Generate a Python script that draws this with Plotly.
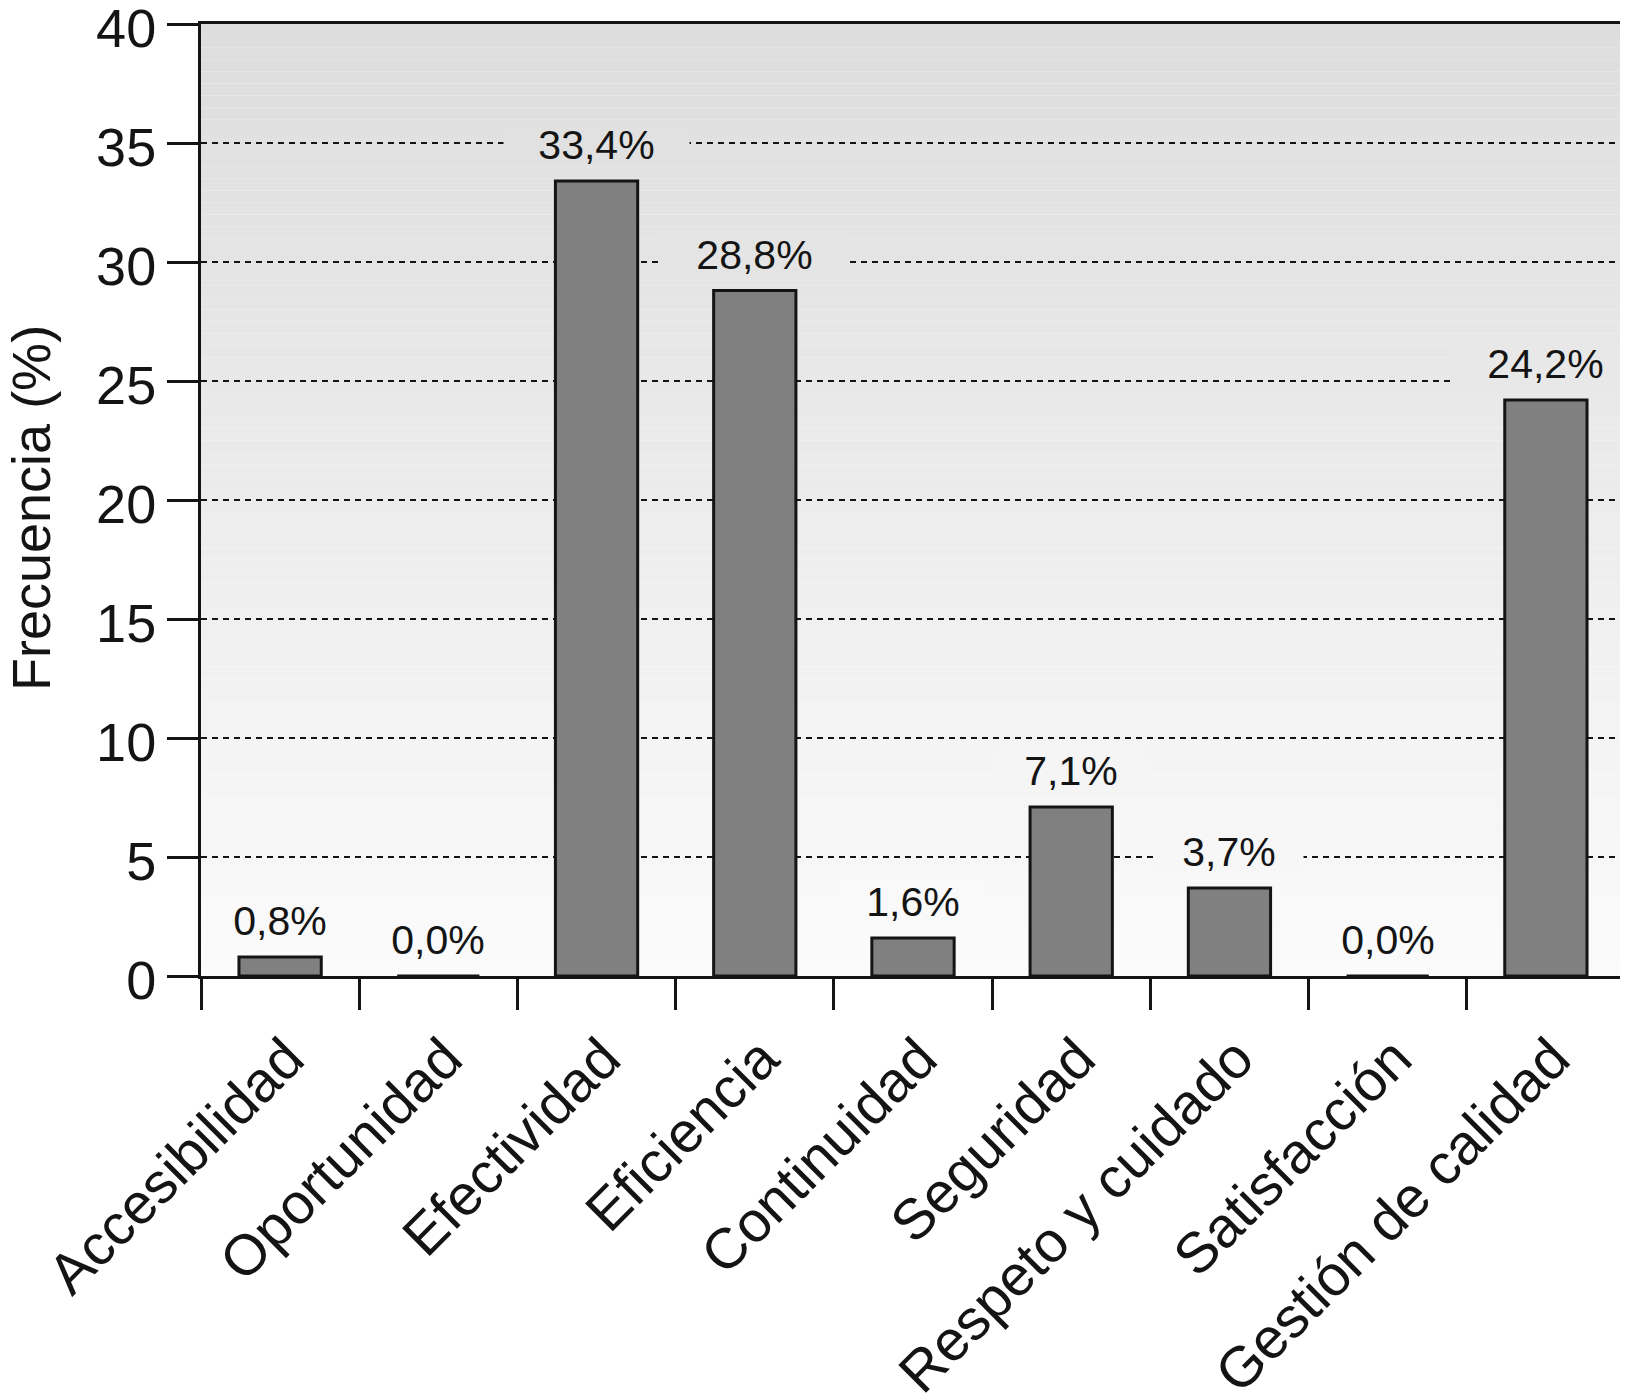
import plotly.graph_objects as go

categories = ["Accesibilidad", "Oportunidad", "Efectividad", "Eficiencia", "Continuidad",
              "Seguridad", "Respeto y cuidado", "Satisfacción", "Gestión de calidad"]
values = [0.8, 0.0, 33.4, 28.8, 1.6, 7.1, 3.7, 0.0, 24.2]
value_labels = ["0,8%", "0,0%", "33,4%", "28,8%", "1,6%", "7,1%", "3,7%", "0,0%", "24,2%"]
y_ticks = [0, 5, 10, 15, 20, 25, 30, 35, 40]
y_title = "Frecuencia (%)"

FONT = "Liberation Sans, Arial, Helvetica, sans-serif"
INK = "#141414"
Y_MAX = 40


def bg_color(y):
    t = max(0.0, min(1.0, y / Y_MAX))
    v = round(251 - (251 - 221) * t)
    return f"rgb({v},{v},{v})"


fig = go.Figure()
fig.add_trace(go.Bar(
    x=categories, y=values,
    marker=dict(color="#808080", line=dict(color=INK, width=3)),
    width=0.52,
    hoverinfo="x+y",
))

# gradient background
steps = 80
shapes = []
for i in range(steps):
    y0 = Y_MAX * i / steps
    y1 = Y_MAX * (i + 1) / steps
    shapes.append(dict(type="rect", xref="paper", yref="y", x0=0, x1=1, y0=y0, y1=y1,
                       fillcolor=bg_color((y0 + y1) / 2), line=dict(width=0), layer="below"))

annotations = []
for c, v, lab in zip(categories, values, value_labels):
    annotations.append(dict(
        x=c, y=v, xref="x", yref="y", text=lab, showarrow=False,
        yanchor="bottom", yshift=14, height=42, width=37 * len(lab),
        bgcolor=bg_color(v + 1.5), borderpad=0,
        font=dict(family=FONT, size=41, color=INK),
    ))

# y-axis title
annotations.append(dict(
    x=0, y=0.5, xref="paper", yref="paper", text=y_title, showarrow=False,
    textangle=-90, xanchor="center", yanchor="middle", xshift=-170, yshift=-8,
    font=dict(family=FONT, size=54, color=INK),
))

# page body has an 8px default margin, so the figure is sized/offset to compensate
fig.update_layout(
    width=1620, height=1392,
    margin=dict(l=193, r=3, t=16, b=424),
    paper_bgcolor="white", plot_bgcolor="white",
    shapes=shapes, annotations=annotations,
    showlegend=False,
    font=dict(family=FONT, color=INK),
    bargap=0.48,
)
fig.update_xaxes(
    type="category", range=[-0.5, len(categories) - 0.5],
    showline=True, linecolor=INK, linewidth=3, mirror=True,
    ticks="outside", tickson="boundaries", ticklen=31, tickwidth=3, tickcolor=INK,
    tickangle=-45, tickfont=dict(family=FONT, size=57, color=INK),
    ticklabelstandoff=23, ticklabelshift=7, ticklabeloverflow="allow",
    showgrid=False, automargin=False,
)
fig.update_yaxes(
    range=[0, Y_MAX], tickvals=y_ticks, showline=True, linecolor=INK, linewidth=3,
    mirror=True, ticks="outside", ticklen=31, tickwidth=3, tickcolor=INK,
    tickfont=dict(family=FONT, size=54, color=INK), ticklabeloverflow="allow",
    ticklabelshift=4,
    showgrid=True, gridcolor=INK, gridwidth=1.5, griddash="6px,5px", zeroline=False,
    automargin=False,
)

fig.write_html("out.html")
